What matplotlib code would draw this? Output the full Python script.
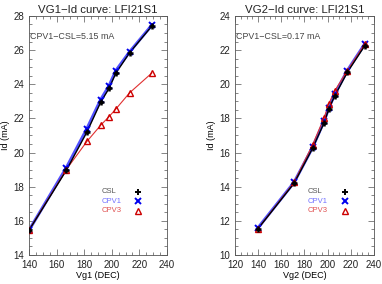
import matplotlib
matplotlib.use("Agg")
import matplotlib.pyplot as plt
from matplotlib.ticker import MultipleLocator

# VG1 sweep
vg1 = [140, 167, 182, 192, 198, 203, 213, 229]
vg1_csl = [15.45, 18.95, 21.2, 22.95, 23.75, 24.65, 25.85, 27.4]
vg1_cpv1 = [15.45, 19.1, 21.4, 23.1, 23.9, 24.8, 25.9, 27.45]
vg1_cpv3 = [15.45, 19.0, 20.65, 21.6, 22.1, 22.55, 23.5, 24.65]

# VG2 sweep
vg2 = [140, 171, 187, 197, 201, 206, 217, 232]
vg2_csl = [11.55, 14.2, 16.25, 17.75, 18.55, 19.3, 20.7, 22.25]
vg2_cpv1 = [11.6, 14.25, 16.3, 17.85, 18.6, 19.4, 20.8, 22.35]
vg2_cpv3 = [11.55, 14.25, 16.45, 18.05, 18.85, 19.6, 20.8, 22.35]

notes = ["CPV1\u2212CSL=5.15 mA", "CPV1\u2212CSL=0.17 mA"]
titles = ["VG1\u2212Id curve: LFI21S1", "VG2\u2212Id curve: LFI21S1"]
xlabels = ["Vg1", "Vg2"]

plt.rcParams["font.family"] = ["Liberation Sans", "DejaVu Sans"]

fig = plt.figure(figsize=(3.82, 2.84), dpi=100)
ax1 = fig.add_axes([0.0759, 0.102, 0.361, 0.842])
ax2 = fig.add_axes([0.615, 0.102, 0.364, 0.842])

panels = [
    (ax1, vg1, vg1_csl, vg1_cpv1, vg1_cpv3, (140, 240), (14, 28)),
    (ax2, vg2, vg2_csl, vg2_cpv1, vg2_cpv3, (120, 240), (10, 24)),
]

for i, (ax, x, csl, cpv1, cpv3, xl, yl) in enumerate(panels):
    ax.plot(x, cpv1, color="#5050ff", lw=2.2, zorder=2)
    ax.plot(x, cpv1, ls="none", marker="x", color="#0000ee", ms=4.5, mew=1.4, zorder=4)
    ax.plot(x, cpv3, color="#e03030", lw=0.8, zorder=3)
    ax.plot(x, cpv3, ls="none", marker="^", mfc="none", mec="#cc0000", ms=5, mew=1.0, zorder=4)
    ax.plot(x, csl, color="black", lw=1.0, zorder=3)
    ax.plot(x, csl, ls="none", marker="+", color="black", ms=4.5, mew=1.8, zorder=5)

    ax.set_xlim(*xl)
    ax.set_ylim(*yl)
    ax.xaxis.set_major_locator(MultipleLocator(20))
    ax.xaxis.set_minor_locator(MultipleLocator(5))
    ax.yaxis.set_major_locator(MultipleLocator(2))
    ax.yaxis.set_minor_locator(MultipleLocator(0.5))
    ax.tick_params(which="both", direction="in", top=True, right=True,
                   labelsize=7, width=0.5, colors="#555555", labelcolor="#222222")
    ax.tick_params(which="major", length=4)
    ax.tick_params(which="minor", length=2)
    for s in ax.spines.values():
        s.set_linewidth(0.6)
        s.set_color("#555555")

    ax.set_title(titles[i], fontsize=8.2, pad=2, color="#222222")
    ax.set_xlabel(xlabels[i] + " (DEC)", fontsize=6.5, labelpad=1)
    ax.set_ylabel("Id (mA)", fontsize=6.5, labelpad=2)
    ax.text(0.005, 0.915, notes[i], transform=ax.transAxes, fontsize=6.4,
            color="#444444", ha="left", va="center")

    # legend block
    ly = [0.265, 0.225, 0.185]
    names = ["CSL", "CPV1", "CPV3"]
    tcols = ["#555555", "#7070ff", "#e05050"]
    for yy, nm, tc in zip(ly, names, tcols):
        ax.text(0.525, yy, nm, transform=ax.transAxes, fontsize=5.5, color=tc,
                ha="left", va="center")
    mx = 0.79
    ax.plot([mx], [ly[0]], transform=ax.transAxes, marker="+", color="black",
            ms=4.5, mew=1.4, ls="none", clip_on=False)
    ax.plot([mx], [ly[1]], transform=ax.transAxes, marker="x", color="#0000ee",
            ms=4.5, mew=1.4, ls="none", clip_on=False)
    ax.plot([mx], [ly[2]], transform=ax.transAxes, marker="^", mfc="none",
            mec="#cc0000", ms=5, mew=1.0, ls="none", clip_on=False)

fig.savefig("out.png", dpi=100)
